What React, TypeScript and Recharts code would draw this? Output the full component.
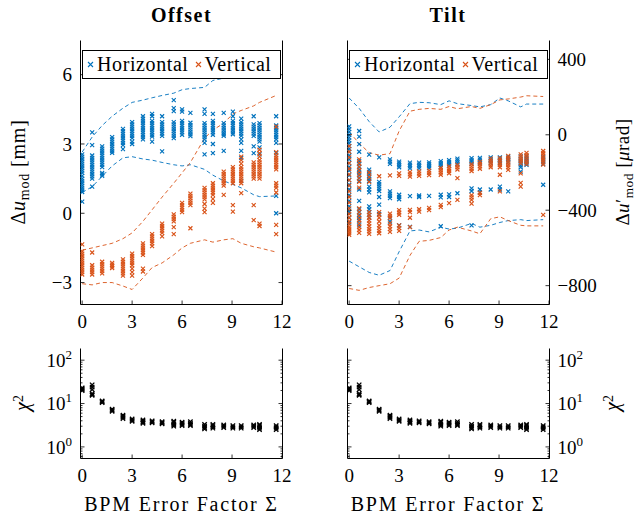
import React from "react";
import { ComposedChart, Scatter, Line, XAxis, YAxis } from "recharts";

const BLUE = "#0072BD";
const ORANGE = "#D95319";
const FONT = "Liberation Serif, DejaVu Serif, Times New Roman, serif";

// x positions of the runs (BPM error factor)
const X_COLS = [0, 0.6, 1.2, 1.8, 2.45, 3, 3.65, 4.2, 4.8, 5.5, 6, 6.5, 7.35, 7.85, 8.5, 9.05, 9.55, 10.3, 10.65, 11.65];
const X_TICKS = [0, 3, 6, 9, 12];
const X_DOMAIN: [number, number] = [-0.1, 12.03];

const OFFSET_TICKS = [-3, 0, 3, 6];
const TILT_TICKS = [-800, -400, 0, 400];
const CHI2_TICKS = [0.6, 0.7, 0.8, 0.9, 1, 2, 3, 4, 5, 6, 7, 8, 9, 10, 20, 30, 40, 50, 60, 70, 80, 90, 100];
const CHI2_MAJOR = [1, 10, 100];

// Offset [mm], one list per column
const OFFSET_H = [
  [2.55, 2.45, 2.35, 2.25, 2.15, 2.05, 1.95, 1.85, 1.75, 1.62, 1.5, 1.4, 1.3, 1.2, 1.1, 1.0, 0.92, 0.5],
  [3.5, 2.95, 2.5, 2.4, 2.3, 2.2, 2.1, 2.0, 1.9, 1.8, 1.7, 1.6, 1.5, 1.15],
  [2.9, 2.8, 2.7, 2.6, 2.5, 2.4, 2.3, 2.2, 2.1, 2.0, 1.75, 1.68, 1.62],
  [3.3, 3.2, 3.1, 3.0, 2.9, 2.8, 2.7, 2.62],
  [3.65, 3.55, 3.45, 3.35, 3.25, 3.15, 3.05, 2.95, 2.78],
  [3.95, 3.85, 3.75, 3.65, 3.55, 3.45, 3.35, 3.25, 3.1, 3.0],
  [4.2, 4.1, 4.0, 3.9, 3.8, 3.7, 3.6, 3.5, 3.4, 3.3, 3.2],
  [4.3, 4.2, 4.0, 3.9, 3.8, 3.7, 3.6, 3.5, 3.4, 3.32, 3.1],
  [4.2, 3.95, 3.85, 3.75, 3.65, 3.55, 3.45, 3.35, 2.68],
  [4.9, 4.55, 4.42, 3.95, 3.85, 3.75, 3.65, 3.55, 3.45, 3.35, 3.25],
  [4.5, 4.4, 4.0, 3.9, 3.8, 3.7, 3.6, 3.5, 3.4],
  [4.35, 3.92, 3.82, 3.72, 3.62, 3.52, 3.42, 3.34],
  [4.5, 4.3, 3.9, 3.8, 3.7, 3.6, 3.5, 3.4, 3.3, 3.2, 3.05, 2.55],
  [4.3, 4.0, 3.9, 3.8, 3.7, 3.6, 3.5, 3.4, 3.0, 2.6],
  [4.35, 3.9, 3.8, 3.7, 3.6, 3.5, 3.42, 3.35, 2.7],
  [4.4, 4.2, 4.0, 3.9, 3.8, 3.7, 3.6, 3.5, 3.42],
  [4.1, 3.95, 3.85, 3.75, 3.65, 3.55, 3.45, 3.35, 3.2, 3.05, 2.7, 2.4, 1.4],
  [4.2, 3.85, 3.75, 3.65, 3.55, 3.45, 3.35, 2.9, 2.6],
  [3.9, 3.8, 3.7, 3.6, 3.5, 3.4, 3.3, 3.2, 3.1, 2.85, 2.55],
  [4.2, 3.8, 3.7, 3.6, 3.5, 3.4, 3.3, 3.2, 3.05, 2.6, 0.75, 0.0],
];
const OFFSET_V = [
  [-1.35, -1.65, -1.75, -1.85, -1.95, -2.05, -2.15, -2.25, -2.35, -2.45, -2.55, -2.65],
  [-1.7, -2.25, -2.35, -2.45, -2.55, -2.65],
  [-2.1, -2.2, -2.3, -2.4, -2.5, -2.6],
  [-2.15, -2.22, -2.3, -2.37],
  [-2.0, -2.1, -2.2, -2.3, -2.4, -2.5, -2.6, -2.7],
  [-1.75, -1.85, -1.95, -2.05, -2.15, -2.25, -2.4, -2.55, -2.7],
  [-1.3, -1.4, -1.5, -1.6, -1.7, -1.8, -2.4, -2.52],
  [-0.9, -1.0, -1.1, -1.2, -1.3, -1.42],
  [-0.45, -0.55, -0.65, -0.75, -0.85, -1.0],
  [-0.05, -0.15, -0.25, -0.35, -0.6, -0.9],
  [0.45, 0.35, 0.25, 0.15, 0.05],
  [0.85, 0.75, 0.65, 0.55, 0.45, 0.35, -0.65],
  [1.1, 1.0, 0.9, 0.8, 0.7, 0.6, 0.4, 0.2, 0.05],
  [1.3, 1.2, 1.1, 1.0, 0.9, 0.8, 0.62, 0.45],
  [1.8, 1.7, 1.6, 1.5, 1.4, 1.3, 1.2, 0.8],
  [2.0, 1.9, 1.8, 1.7, 1.6, 1.5, 1.4, 1.3, 0.35, 0.07],
  [2.45, 2.3, 2.15, 2.0, 1.9, 1.8, 1.7, 1.6, 1.5, 1.4, 1.3, 0.87],
  [2.2, 2.1, 2.0, 1.9, 1.8, 1.7, 1.6, 1.5, 0.35, -0.3],
  [2.75, 2.6, 2.45, 2.3, 2.2, 2.1, 2.0, 1.9, 1.8, 1.7, 1.6, 1.5, -0.45, -0.55],
  [3.75, 2.65, 2.5, 2.4, 2.3, 2.2, 2.1, 2.0, 1.9, 1.3, 1.2, 1.1, 0.9, -0.5, -0.9],
];
const OFFSET_H_UP = [2.65, 3.3, 3.8, 4.2, 4.55, 4.8, 4.9, 5.0, 5.1, 5.2, 5.35, 5.4, 5.45, 5.75, 5.85, 5.9, 6.0, 6.1, 6.2, 6.3];
const OFFSET_H_LO = [0.9, 1.15, 1.6, 2.05, 2.4, 2.45, 2.35, 2.3, 2.2, 2.1, 2.05, 2.1, 1.9, 1.65, 1.4, 1.25, 1.1, 0.8, 0.72, 0.75];
const OFFSET_V_UP = [-1.6, -1.5, -1.4, -1.3, -1.1, -0.85, -0.35, 0.15, 0.7, 1.3, 1.75, 2.2, 3.25, 3.6, 3.9, 4.3, 4.45, 4.65, 4.8, 5.1];
const OFFSET_V_LO = [-3.05, -3.1, -3.0, -3.0, -3.15, -3.3, -2.8, -2.35, -2.15, -1.8, -1.5, -1.3, -1.15, -1.25, -1.15, -1.1, -1.3, -1.45, -1.5, -1.68];

// Tilt [urad], one list per column
const TILT_H = [
  [45, 30, 15, 0, -15, -30, -45, -60, -75, -90, -110, -130, -150, -170, -190, -215, -240, -265, -290, -320, -350, -380, -410, -440, -465],
  [20, -10, -50, -90, -140, -155, -170, -185, -200, -215, -230, -245, -290, -350, -395, -410, -425, -440, -455, -480],
  [-105, -185, -197, -209, -221, -233, -245, -275, -290, -305, -380, -395, -410, -425, -440],
  [-120, -250, -262, -274, -286, -298, -330, -370, -420],
  [-130, -142, -154, -300, -312, -324, -336, -440, -460],
  [-142, -152, -162, -172, -318, -330, -342, -480],
  [-148, -158, -168, -178, -325, -488],
  [-148, -158, -168, -178, -322, -330],
  [-146, -156, -166, -176, -324],
  [-140, -150, -160, -170, -318, -332, -485],
  [-134, -144, -154, -164, -316, -330],
  [-126, -136, -146, -156, -310],
  [-124, -134, -144, -154, -284, -298, -480],
  [-122, -132, -142, -152, -290, -306],
  [-120, -130, -140, -150, -290],
  [-120, -130, -140, -150, -275, -290],
  [-116, -126, -136, -146, -300],
  [-114, -126, -138, -150, -162, -172, -195],
  [-114, -126, -138, -150, -160],
  [-118, -130, -142, -154, -265],
];
const TILT_V = [
  [-60, -90, -120, -150, -180, -210, -240, -270, -300, -330, -360, -390, -420, -440, -460, -475, -490, -500, -510, -520, -530],
  [-130, -150, -170, -190, -210, -230, -250, -280, -390, -410, -430, -450, -470, -490, -505, -520],
  [-200, -225, -250, -410, -425, -440, -455, -470, -485, -500, -512, -525],
  [-220, -410, -425, -440, -460, -480, -495, -510, -522],
  [-215, -418, -430, -442, -470, -485, -500, -515],
  [-205, -218, -400, -412, -424, -480, -495, -510],
  [-198, -210, -222, -398, -410, -440, -490],
  [-194, -206, -218, -395, -407],
  [-190, -202, -214, -388, -400],
  [-176, -188, -200, -212, -372, -384],
  [-168, -180, -192, -204, -362],
  [-160, -172, -184, -230, -345],
  [-156, -168, -180, -192, -320, -332, -345, -365],
  [-144, -156, -168, -180, -308, -320],
  [-126, -138, -150, -162, -172],
  [-124, -136, -148, -160, -172, -212, -300],
  [-112, -124, -136, -148, -160, -172, -186],
  [-104, -116, -128, -140, -152, -205, -255, -275],
  [-96, -108, -120, -132, -144, -156],
  [-86, -98, -110, -122, -134, -146, -158, -425],
];
const TILT_H_UP = [195, 140, 70, 15, 40, 95, 165, 172, 170, 160, 180, 165, 155, 148, 160, 195, 180, 148, 163, 163];
const TILT_H_LO = [-670, -700, -730, -745, -720, -620, -510, -505, -515, -490, -500, -495, -470, -490, -480, -465, -455, -450, -455, -450];
const TILT_V_UP = [15, -45, -95, -108, -100, 20, 125, 135, 140, 135, 150, 138, 150, 140, 160, 185, 190, 200, 207, 203];
const TILT_V_LO = [-815, -825, -810, -800, -790, -760, -640, -565, -560, -545, -505, -490, -510, -525, -445, -435, -455, -480, -483, -483];

// chi^2 per column
const CHI2 = [
  [20, 21, 22, 23],
  [27, 24, 21, 17, 16, 15.5],
  [10.5, 11, 11.5],
  [6.6, 7, 7.4],
  [4.5, 4.8, 5.1, 5.4],
  [3.9, 4.1, 4.4],
  [3.5, 3.7, 3.9, 4.2],
  [3.6, 3.8, 4.0],
  [3.4, 3.6, 3.8],
  [3.0, 3.2, 3.4, 3.7, 3.9],
  [3.1, 3.3, 3.5, 3.7],
  [3.1, 3.3, 3.5, 3.8],
  [2.6, 2.8, 3.0, 3.3],
  [2.7, 2.9, 3.1, 3.3],
  [2.8, 3.0, 3.2],
  [2.7, 2.9, 3.1],
  [2.7, 2.9, 3.1],
  [2.8, 3.0, 3.2],
  [2.5, 2.7, 2.9, 3.1, 3.3],
  [2.5, 2.7, 2.9, 3.1],
];

type Pt = { x: number; y: number };
const cols = (values: number[][]): Pt[] => values.flatMap((col, i) => col.map((y) => ({ x: X_COLS[i], y })));
const line = (values: number[]): Pt[] => values.map((y, i) => ({ x: X_COLS[i], y }));

const PLOT_W = 202;
const AXIS_LINE = { stroke: "#000", strokeWidth: 1 };

function crossShape(color: string, s: number, w: number) {
  return (props: any) => {
    const { cx, cy } = props;
    if (cx == null || cy == null) return <g />;
    return (
      <path
        d={`M${cx - s},${cy - s}L${cx + s},${cy + s}M${cx - s},${cy + s}L${cx + s},${cy - s}`}
        stroke={color}
        strokeWidth={w}
        fill="none"
      />
    );
  };
}

const fmt = (v: number) => String(v).replace("-", "\u2212");

function makeTick(side: "left" | "right" | "bottom" | "top", labelled: boolean, log: boolean) {
  return function Tick(props: any) {
    const { x, y, payload } = props;
    const v = payload.value as number;
    const major = !log || CHI2_MAJOR.includes(v);
    const len = major ? 4 : 2;
    let l = { x1: x, y1: y, x2: x, y2: y };
    if (side === "left") l = { ...l, x2: x + len };
    if (side === "right") l = { ...l, x2: x - len };
    if (side === "bottom") l = { ...l, y2: y - len };
    if (side === "top") l = { ...l, y2: y + len };
    let label: React.ReactNode = null;
    if (labelled && major) {
      const content = log ? (
        <>
          10
          <tspan dy={-8} fontSize={13}>
            {Math.round(Math.log10(v))}
          </tspan>
        </>
      ) : (
        fmt(v)
      );
      const common = { fontFamily: FONT, fontSize: 19, fill: "#000" };
      if (side === "left")
        label = (
          <text x={x - 8.5} y={y} dy="0.35em" textAnchor="end" {...common}>
            {content}
          </text>
        );
      if (side === "right")
        label = (
          <text x={x + 8} y={y} dy="0.35em" textAnchor="start" {...common}>
            {content}
          </text>
        );
      if (side === "bottom")
        label = (
          <text x={x} y={y + 10} dy="0.71em" textAnchor="middle" {...common}>
            {content}
          </text>
        );
    }
    return (
      <g>
        <line {...l} stroke="#000" strokeWidth={0.8} />
        {label}
      </g>
    );
  };
}

interface PanelProps {
  left: number;
  top: number;
  plotH: number;
  yDomain: [number, number];
  yTicks: number[];
  log?: boolean;
  labelSide: "left" | "right";
  children: React.ReactNode;
}

function Panel({ left, top, plotH, yDomain, yTicks, log = false, labelSide, children }: PanelProps) {
  const axisCommon = {
    axisLine: AXIS_LINE,
    tickLine: false,
    tickSize: 0,
    tickMargin: 0,
    interval: 0 as const,
    allowDataOverflow: true,
  };
  return (
    <div style={{ position: "absolute", left: left - 60.5, top: top - 0.5 }}>
      <ComposedChart
        width={PLOT_W + 121}
        height={plotH + 41}
        margin={{ top: 0.5, right: 0.5, bottom: 0.5, left: 0.5 }}
      >
        <XAxis
          xAxisId={0}
          type="number"
          dataKey="x"
          domain={X_DOMAIN}
          ticks={X_TICKS}
          height={40}
          tick={makeTick("bottom", true, false)}
          {...axisCommon}
        />
        <XAxis
          xAxisId="m"
          orientation="top"
          type="number"
          domain={X_DOMAIN}
          ticks={X_TICKS}
          height={0}
          tick={makeTick("top", false, false)}
          {...axisCommon}
        />
        <YAxis
          yAxisId={0}
          type="number"
          dataKey="y"
          domain={yDomain}
          scale={log ? "log" : "auto"}
          ticks={yTicks}
          width={60}
          tick={makeTick("left", labelSide === "left", log)}
          {...axisCommon}
        />
        <YAxis
          yAxisId="m"
          orientation="right"
          type="number"
          domain={yDomain}
          scale={log ? "log" : "auto"}
          ticks={yTicks}
          width={60}
          tick={makeTick("right", labelSide === "right", log)}
          {...axisCommon}
        />
        {children}
      </ComposedChart>
    </div>
  );
}

function envelope(values: number[], color: string, key: string) {
  return (
    <Line
      key={key}
      data={line(values)}
      dataKey="y"
      type="linear"
      stroke={color}
      strokeWidth={0.9}
      strokeDasharray="4 3"
      dot={false}
      activeDot={false}
      isAnimationActive={false}
    />
  );
}

function Mark({ color }: { color: string }) {
  return (
    <svg width={7} height={7} style={{ display: "block" }}>
      <path d="M1,1L6,6M1,6L6,1" stroke={color} strokeWidth={1.1} />
    </svg>
  );
}

function LegendBox({ left, top }: { left: number; top: number }) {
  return (
    <div
      style={{
        position: "absolute",
        left,
        top,
        width: 199,
        height: 29,
        boxSizing: "border-box",
        border: "1px solid #000",
        background: "#fff",
        display: "flex",
        alignItems: "center",
        fontFamily: FONT,
        fontSize: 20,
        letterSpacing: 0.6,
        paddingLeft: 4,
        zIndex: 2,
      }}
    >
      <Mark color={BLUE} />
      <span style={{ marginLeft: 3 }}>Horizontal</span>
      <span style={{ marginLeft: 6 }}>
        <Mark color={ORANGE} />
      </span>
      <span style={{ marginLeft: 3 }}>Vertical</span>
    </div>
  );
}

function Text({
  x,
  y,
  rotate = false,
  bold = false,
  spacing = 0,
  size = 20,
  children,
}: {
  x: number;
  y: number;
  rotate?: boolean;
  bold?: boolean;
  spacing?: number;
  size?: number;
  children: React.ReactNode;
}) {
  return (
    <div
      style={{
        position: "absolute",
        left: x,
        top: y,
        transform: `translate(-50%, -50%)${rotate ? " rotate(-90deg)" : ""}`,
        whiteSpace: "nowrap",
        fontFamily: FONT,
        fontSize: size,
        fontWeight: bold ? "bold" : "normal",
        letterSpacing: spacing,
        lineHeight: 1,
        zIndex: 3,
      }}
    >
      {children}
    </div>
  );
}

const sub = { fontSize: "0.7em", verticalAlign: "-0.3em" };
const sup = { fontSize: "0.7em", verticalAlign: "0.45em" };

export default function App() {
  return (
    <div
      style={{
        position: "absolute",
        left: 0,
        top: 0,
        width: 639,
        height: 517,
        overflow: "hidden",
        background: "#fff",
      }}
    >
      <Panel left={80.5} top={40.5} plotH={264} yDomain={[-3.95, 7.48]} yTicks={OFFSET_TICKS} labelSide="left">
        <Scatter data={cols(OFFSET_H)} dataKey="y" shape={crossShape(BLUE, 2, 1.15)} isAnimationActive={false} />
        <Scatter data={cols(OFFSET_V)} dataKey="y" shape={crossShape(ORANGE, 2, 1.15)} isAnimationActive={false} />
        {envelope(OFFSET_H_UP, BLUE, "hu")}
        {envelope(OFFSET_H_LO, BLUE, "hl")}
        {envelope(OFFSET_V_UP, ORANGE, "vu")}
        {envelope(OFFSET_V_LO, ORANGE, "vl")}
      </Panel>
      <Panel left={347.5} top={40.5} plotH={264} yDomain={[-900, 500]} yTicks={TILT_TICKS} labelSide="right">
        <Scatter data={cols(TILT_H)} dataKey="y" shape={crossShape(BLUE, 2, 1.15)} isAnimationActive={false} />
        <Scatter data={cols(TILT_V)} dataKey="y" shape={crossShape(ORANGE, 2, 1.15)} isAnimationActive={false} />
        {envelope(TILT_H_UP, BLUE, "hu")}
        {envelope(TILT_H_LO, BLUE, "hl")}
        {envelope(TILT_V_UP, ORANGE, "vu")}
        {envelope(TILT_V_LO, ORANGE, "vl")}
      </Panel>
      <Panel left={80.5} top={348.5} plotH={110} yDomain={[0.54, 186]} yTicks={CHI2_TICKS} log labelSide="left">
        <Scatter data={cols(CHI2)} dataKey="y" shape={crossShape("#000", 2.2, 1.3)} isAnimationActive={false} />
      </Panel>
      <Panel left={347.5} top={348.5} plotH={110} yDomain={[0.54, 186]} yTicks={CHI2_TICKS} log labelSide="right">
        <Scatter data={cols(CHI2)} dataKey="y" shape={crossShape("#000", 2.2, 1.3)} isAnimationActive={false} />
      </Panel>

      <LegendBox left={82} top={50} />
      <LegendBox left={349} top={50} />

      <Text x={181.5} y={15} bold spacing={1.5}>
        Offset
      </Text>
      <Text x={448} y={15} bold spacing={1.5}>
        Tilt
      </Text>
      <Text x={20} y={172} rotate spacing={0.8}>
        Δ<i>u</i>
        <span style={sub}>mod</span> [mm]
      </Text>
      <Text x={624} y={172} rotate spacing={0.5} size={19}>
        Δ<i>u</i>′<span style={sub}>mod</span> [<i>μ</i>rad]
      </Text>
      <Text x={22} y={403} rotate>
        <i>χ</i>
        <span style={sup}>2</span>
      </Text>
      <Text x={612} y={403} rotate>
        <i>χ</i>
        <span style={sup}>2</span>
      </Text>
      <Text x={181.5} y={504} spacing={1.8}>
        BPM Error Factor Σ
      </Text>
      <Text x={448} y={504} spacing={1.8}>
        BPM Error Factor Σ
      </Text>
    </div>
  );
}
